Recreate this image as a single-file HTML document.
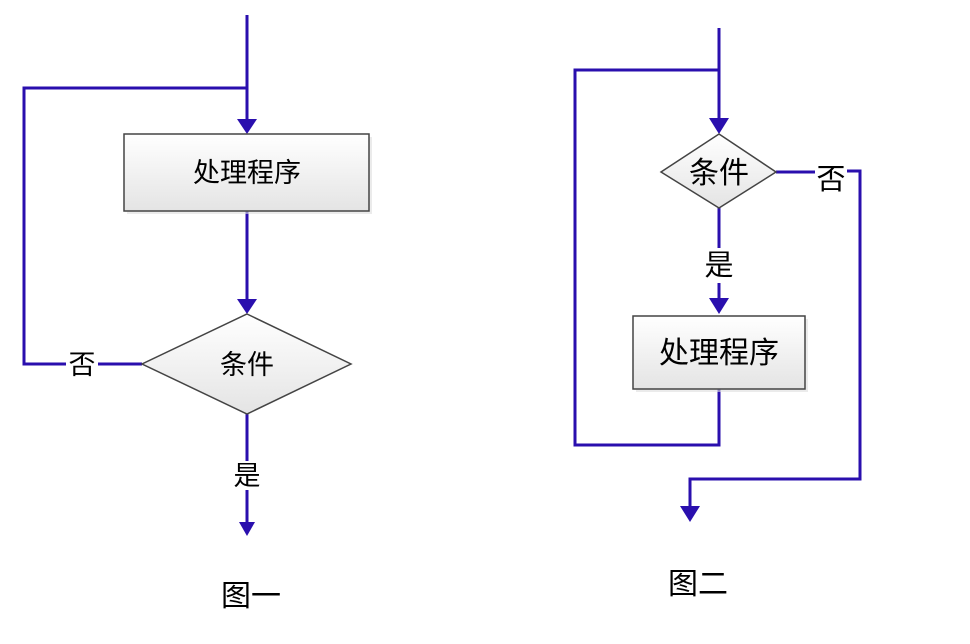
<!DOCTYPE html>
<html><head><meta charset="utf-8"><style>
html,body{margin:0;padding:0;background:#fff;}
svg{display:block;}
text{font-family:"Liberation Sans","Noto Sans CJK SC","WenQuanYi Zen Hei",sans-serif;fill:#000;}
</style></head><body>
<svg width="970" height="644" viewBox="0 0 970 644" xmlns="http://www.w3.org/2000/svg">
<defs>
<linearGradient id="g" x1="0" y1="0" x2="0" y2="1">
<stop offset="0" stop-color="#ffffff"/><stop offset="1" stop-color="#e4e4e4"/>
</linearGradient>
</defs>
<g stroke="#2a0fae" stroke-width="3" fill="none">
<polyline points="247,15 247,122"/>
<polyline points="247,88 24,88 24,364 66,364"/>
<line x1="98" y1="364" x2="142" y2="364"/>
<line x1="247" y1="211" x2="247" y2="302"/>
<line x1="247" y1="414" x2="247" y2="461"/>
<line x1="247" y1="490" x2="247" y2="524"/>
<polyline points="719,28 719,122"/>
<polyline points="719,70 575,70 575,445 719,445 719,389"/>
<line x1="719" y1="208" x2="719" y2="248"/>
<line x1="719" y1="283" x2="719" y2="302"/>
<line x1="776" y1="172" x2="815" y2="172"/>
<polyline points="847,171 860,171 860,479 690,479 690,510"/>
</g>
<g fill="#2a0fae">
<polygon points="237,119 257,119 247,134"/>
<polygon points="237,299 257,299 247,314"/>
<polygon points="239,522 255,522 247,536"/>
<polygon points="709,118 729,118 719,134"/>
<polygon points="709,298 729,298 719,314"/>
<polygon points="680,506 700,506 690,522"/>
</g>
<rect x="127" y="137" width="245" height="77" fill="#ddd" opacity="0.6"/>
<rect x="124" y="134" width="245" height="77" fill="url(#g)" stroke="#444" stroke-width="1.5"/>
<polygon points="247,314 351,364 247,414 142,364" fill="url(#g)" stroke="#444" stroke-width="1.5"/>
<rect x="636" y="319" width="172" height="73" fill="#ddd" opacity="0.6"/>
<rect x="633" y="316" width="172" height="73" fill="url(#g)" stroke="#444" stroke-width="1.5"/>
<polygon points="719,134 776,172 719,208 661,172" fill="url(#g)" stroke="#444" stroke-width="1.5"/>
<text x="247" y="182" font-size="27" text-anchor="middle">处理程序</text>
<text x="247" y="374" font-size="27" text-anchor="middle">条件</text>
<text x="82" y="374" font-size="27" text-anchor="middle">否</text>
<text x="247" y="485" font-size="27" text-anchor="middle">是</text>
<text x="251" y="606" font-size="30" text-anchor="middle">图一</text>
<text x="719" y="363" font-size="30" text-anchor="middle">处理程序</text>
<text x="719" y="183" font-size="30" text-anchor="middle">条件</text>
<text x="831" y="189" font-size="29" text-anchor="middle">否</text>
<text x="719" y="275" font-size="29" text-anchor="middle">是</text>
<text x="698" y="594" font-size="30" text-anchor="middle">图二</text>
</svg>
</body></html>
